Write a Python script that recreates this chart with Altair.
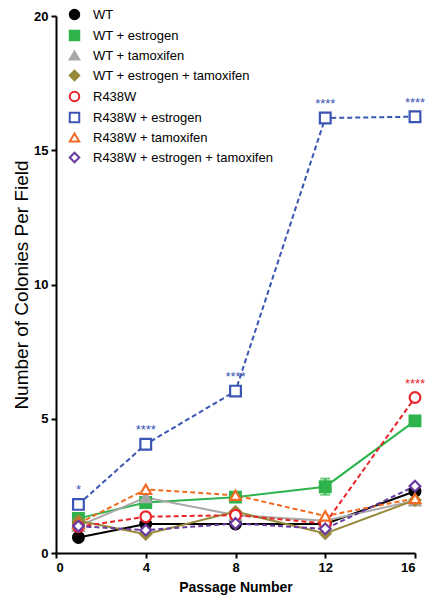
import altair as alt
import pandas as pd

passages = [1, 4, 8, 12, 16]
series_names = [
    "WT", "WT + estrogen", "WT + tamoxifen", "WT + estrogen + tamoxifen",
    "R438W", "R438W + estrogen", "R438W + tamoxifen", "R438W + estrogen + tamoxifen",
]
values = {
    "WT": [0.58, 1.08, 1.08, 1.08, 2.3],
    "WT + estrogen": [1.29, 1.88, 2.08, 2.47, 4.92],
    "WT + tamoxifen": [1.0, 2.07, 1.41, 1.2, 1.95],
    "WT + estrogen + tamoxifen": [1.2, 0.7, 1.54, 0.73, 1.97],
    "R438W": [0.98, 1.35, 1.41, 1.1, 5.79],
    "R438W + estrogen": [1.81, 4.05, 6.03, 16.2, 16.25],
    "R438W + tamoxifen": [1.1, 2.37, 2.15, 1.38, 2.03],
    "R438W + estrogen + tamoxifen": [1.0, 0.85, 1.1, 0.9, 2.49],
}
errors = {"WT + estrogen": [0.0, 0.0, 0.0, 0.3, 0.0]}
colors = ["#000000", "#2fb34c", "#a8a8a8", "#978a3c", "#e8262a", "#3a55b4", "#f26b22", "#6a3ba0"]
fills = ["#000000", "#2fb34c", "#a8a8a8", "#978a3c", "white", "white", "white", "white"]
shapes = ["circle", "square", "triangle-up", "diamond", "circle", "square", "triangle-up", "diamond"]
dashed = [False] * 4 + [True] * 4

star_x = [1, 4, 8, 12, 16, 16]
star_y = [1.81, 4.05, 6.03, 16.2, 16.25, 5.79]
star_text = ["*", "****", "****", "****", "****", "****"]
star_color = ["#3a55b4"] * 5 + ["#e8262a"]

rows = []
for k, s in enumerate(series_names):
    for i, p in enumerate(passages):
        rows.append({"series": s, "passage": p, "value": values[s][i], "dashed": dashed[k]})
df = pd.DataFrame(rows)

err_rows = []
for s, errs in errors.items():
    for i, p in enumerate(passages):
        if errs[i] > 0:
            err_rows.append({"series": s, "passage": p, "lo": values[s][i] - errs[i], "hi": values[s][i] + errs[i]})
err_df = pd.DataFrame(err_rows)

stars = pd.DataFrame({"passage": star_x, "value": star_y, "text": star_text, "color": star_color})

FONT = "Liberation Sans"
XT = "Passage Number"
YT = "Number of Colonies Per Field"
xscale = alt.Scale(domain=[0, 16], nice=False)
yscale = alt.Scale(domain=[0, 20], nice=False)

x_enc = alt.X("passage:Q", scale=xscale, title=XT,
              axis=alt.Axis(values=[0, 4, 8, 12, 16]))
y_enc = alt.Y("value:Q", scale=yscale, title=YT,
              axis=alt.Axis(values=[0, 5, 10, 15, 20]))

leg = alt.Legend(title=None, orient="none", legendX=12, legendY=-8,
                 labelFont=FONT, labelFontSize=13, labelColor="#000",
                 symbolSize=90, symbolStrokeWidth=2, rowPadding=2, labelOffset=12,
                 labelLimit=300)
color_enc = alt.Color("series:N", sort=series_names,
                      scale=alt.Scale(domain=series_names, range=colors), legend=leg)
fill_enc = alt.Fill("series:N", sort=series_names,
                    scale=alt.Scale(domain=series_names, range=fills), legend=leg)
shape_enc = alt.Shape("series:N", sort=series_names,
                      scale=alt.Scale(domain=series_names, range=shapes), legend=leg)

solid_lines = alt.Chart(df).transform_filter("!datum.dashed").mark_line(strokeWidth=2).encode(
    x=x_enc, y=y_enc, color=color_enc, detail="series:N"
)
dash_lines = alt.Chart(df).transform_filter("datum.dashed").mark_line(strokeWidth=2, strokeDash=[5, 3]).encode(
    x=x_enc, y=y_enc, color=color_enc, detail="series:N"
)
errbars = alt.Chart(err_df).mark_errorbar(ticks=alt.MarkConfig(size=10), color="#2fb34c", thickness=2).encode(
    x=alt.X("passage:Q", scale=xscale, title=XT),
    y=alt.Y("lo:Q", scale=yscale, title=YT), y2="hi:Q"
)
points = alt.Chart(df).mark_point(filled=False, size=115, strokeWidth=2.2, opacity=1).encode(
    x=x_enc, y=y_enc, color=color_enc, fill=fill_enc, shape=shape_enc
)
star_layer = alt.Chart(stars).mark_text(font=FONT, fontSize=13, dy=-14).encode(
    x=alt.X("passage:Q", title=XT), y=alt.Y("value:Q", title=YT),
    text="text:N", color=alt.Color("color:N", scale=None)
)

chart = alt.layer(solid_lines, dash_lines, errbars, points, star_layer).properties(
    width=359, height=537,
    autosize=alt.AutoSizeParams(type="none"),
    padding={"left": 48, "top": 8, "right": 16, "bottom": 45},
).configure_view(stroke=None).configure_axis(
    grid=False, domainColor="#000", domainWidth=2, tickColor="#000", tickWidth=2,
    tickSize=5, labelFont=FONT, labelFontSize=13, labelFontWeight="bold", labelColor="#000",
    titleFont=FONT, titleColor="#000",
).configure_axisX(
    titleFontSize=14, titleFontWeight="bold", titlePadding=6, labelPadding=3
).configure_axisY(
    titleFontSize=19, titleFontWeight="normal", titlePadding=2, labelPadding=3
)

chart.save("out.html", embed_options={"renderer": "svg", "actions": False})
